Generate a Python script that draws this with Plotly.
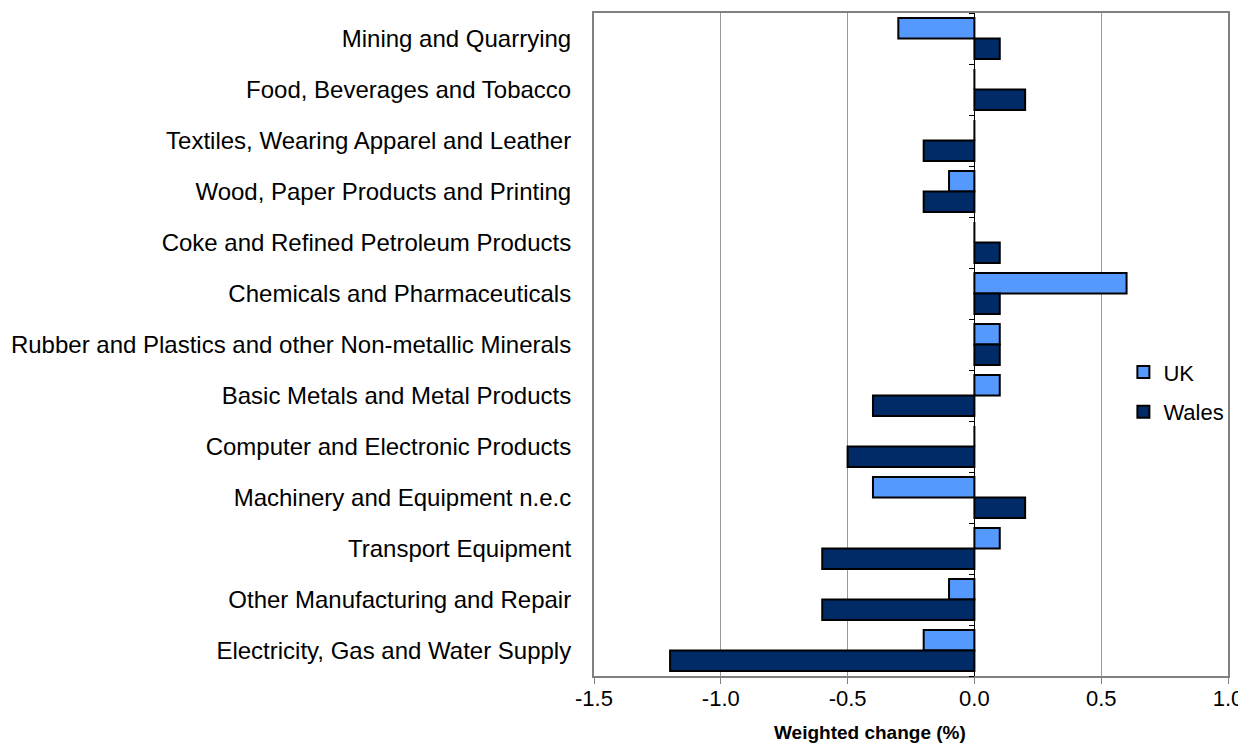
import plotly.graph_objects as go

categories = [
    "Mining and Quarrying",
    "Food, Beverages and Tobacco",
    "Textiles, Wearing Apparel and Leather",
    "Wood, Paper Products and Printing",
    "Coke and Refined Petroleum Products",
    "Chemicals and Pharmaceuticals",
    "Rubber and Plastics and other Non-metallic Minerals",
    "Basic Metals and Metal Products",
    "Computer and Electronic Products",
    "Machinery and Equipment n.e.c",
    "Transport Equipment",
    "Other Manufacturing and Repair",
    "Electricity, Gas and Water Supply",
]
uk = [-0.3, 0.0, 0.0, -0.1, 0.0, 0.6, 0.1, 0.1, 0.0, -0.4, 0.1, -0.1, -0.2]
wales = [0.1, 0.2, -0.2, -0.2, 0.1, 0.1, 0.1, -0.4, -0.5, 0.2, -0.6, -0.6, -1.2]

x_ticks = [-1.5, -1.0, -0.5, 0.0, 0.5, 1.0]
x_ticktext = ["%.1f" % v for v in x_ticks]
x_range = [-1.5, 1.0]

FONT = "Liberation Sans, Arial, sans-serif"

fig = go.Figure()
fig.add_trace(go.Bar(y=categories, x=uk, name="UK", orientation="h", legendgroup="uk",
                     marker=dict(color="#5599FF", line=dict(color="black", width=2))))
fig.add_trace(go.Bar(y=categories, x=wales, name="Wales", orientation="h", legendgroup="wales",
                     marker=dict(color="#002B66", line=dict(color="black", width=2))))
# invisible helper trace for the zero-line axis with boundary ticks
fig.add_trace(go.Scatter(x=[0], y=[0], yaxis="y2", mode="markers",
                         marker=dict(opacity=0), showlegend=False, hoverinfo="skip"))

n = len(categories)
zero_pos = (0 - x_range[0]) / (x_range[1] - x_range[0])

fig.update_layout(
    width=1246, height=744,
    margin=dict(l=579, r=26, t=3, b=76),
    paper_bgcolor="white", plot_bgcolor="white",
    font=dict(family=FONT, size=24, color="black"),
    barmode="group", bargap=0.2, bargroupgap=0,
    showlegend=True,
    legend=dict(x=0.835, y=0.428, xanchor="left", yanchor="middle",
                bgcolor="rgba(0,0,0,0)", font=dict(size=22),
                itemwidth=30, tracegroupgap=8),
    xaxis=dict(range=x_range, tickvals=x_ticks, ticktext=x_ticktext,
               showgrid=True, gridcolor="#999999", gridwidth=1,
               zeroline=False, showline=True, linecolor="#808080", linewidth=2,
               mirror=True, ticks="outside", ticklen=6, tickcolor="#808080",
               ticklabelstandoff=-4, tickfont=dict(size=22)),
    yaxis=dict(autorange="reversed", showgrid=False, zeroline=False,
               showline=True, linecolor="#808080", linewidth=2, mirror=True,
               ticks="", ticklabelstandoff=16, tickfont=dict(size=24)),
    yaxis2=dict(overlaying="y", anchor="free", position=zero_pos, side="left",
                range=[n - 0.5, -0.5],
                tickvals=[i + 0.5 for i in range(-1, n)],
                showticklabels=False, ticks="outside", ticklen=5, tickcolor="black",
                showline=True, linecolor="black", linewidth=1, showgrid=False,
                zeroline=False),
    annotations=[dict(text="<b>Weighted change (%)</b>", x=0.435, y=-0.067,
                      xref="paper", yref="paper", xanchor="center", yanchor="top",
                      showarrow=False, font=dict(size=19))],
)

fig.write_html("out.html")
